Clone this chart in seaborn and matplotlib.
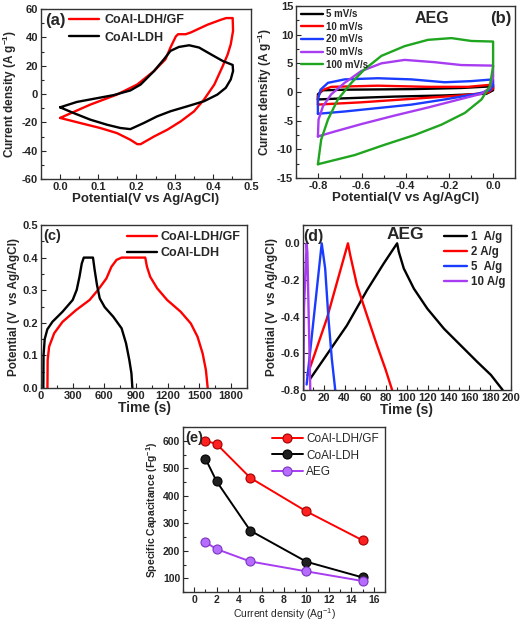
import matplotlib
matplotlib.use("Agg")
import matplotlib.pyplot as plt
import seaborn as sns
from matplotlib.ticker import MultipleLocator

# ---- (a) CV curves, CoAl-LDH/GF vs CoAl-LDH ----
cv_gf_v = [0.0, 0.079, 0.149, 0.202, 0.246, 0.276, 0.289, 0.303, 0.309, 0.329, 0.342, 0.386, 0.421, 0.435,
           0.452, 0.453, 0.447, 0.439, 0.426, 0.404, 0.377, 0.351, 0.316, 0.281, 0.246, 0.211, 0.202, 0.184,
           0.149, 0.105, 0.053, 0.0]
cv_gf_i = [-16.9, -7.5, -0.4, 6.7, 16.2, 24.5, 32.8, 40.6, 42.2, 42.2, 43.4, 48.9, 52.4, 53.6,
           53.6, 44.6, 35.1, 28.0, 19.7, 6.7, -3.9, -12.2, -19.3, -25.2, -30.0, -35.4, -35.4, -32.3,
           -27.6, -24.0, -20.5, -16.9]
cv_ldh_v = [0.0, 0.044, 0.088, 0.140, 0.184, 0.211, 0.246, 0.272, 0.289, 0.311, 0.338, 0.364, 0.395, 0.426,
            0.452, 0.453, 0.447, 0.434, 0.412, 0.377, 0.333, 0.289, 0.254, 0.219, 0.184, 0.158, 0.123,
            0.079, 0.035, 0.0]
cv_ldh_i = [-9.4, -5.6, -3.4, -0.8, 2.5, 6.7, 16.2, 24.5, 30.4, 33.2, 34.4, 32.8, 28.0, 23.3,
            20.5, 16.2, 10.3, 4.4, -0.4, -5.1, -8.7, -12.2, -15.8, -20.5, -24.8, -24.0, -21.7,
            -18.1, -13.4, -9.4]

# ---- (b) CV of AEG at several scan rates ----
aeg5_v = [-0.8, -0.8, -0.777, -0.678, -0.373, -0.145, 0.0, 0.0, -0.03, -0.221, -0.449, -0.678, -0.8]
aeg5_i = [-1.3, -0.4, 0.3, 0.4, 0.5, 0.7, 1.0, 0.3, -0.3, -0.6, -0.8, -1.1, -1.3]
aeg10_v = [-0.8, -0.8, -0.782, -0.739, -0.526, -0.297, -0.114, 0.0, 0.0, -0.023, -0.145, -0.297, -0.449,
           -0.602, -0.754, -0.8]
aeg10_i = [-2.2, -0.8, 0.3, 0.9, 1.1, 0.9, 0.9, 1.3, 0.6, -0.1, -0.6, -1.0, -1.4, -1.8, -2.1, -2.2]
aeg20_v = [-0.8, -0.8, -0.788, -0.754, -0.678, -0.526, -0.373, -0.221, -0.099, 0.0, 0.0, -0.015, -0.069,
           -0.221, -0.373, -0.526, -0.678, -0.8]
aeg20_i = [-3.8, -1.3, 0.4, 1.6, 2.2, 2.4, 2.2, 1.7, 1.9, 2.2, 1.1, 0.3, -0.3, -1.3, -2.2, -2.8, -3.4, -3.8]
aeg50_v = [-0.8, -0.797, -0.777, -0.739, -0.678, -0.602, -0.510, -0.404, -0.267, -0.145, 0.0, 0.0, -0.015,
           -0.053, -0.175, -0.297, -0.449, -0.602, -0.724, -0.8]
aeg50_i = [-7.75, -4.8, -2.5, -0.4, 1.6, 3.65, 5.0, 5.6, 5.2, 4.7, 4.6, 2.5, 0.7, -0.3, -1.5, -2.7, -4.1,
           -5.6, -6.9, -7.75]
aeg100_v = [-0.8, -0.785, -0.754, -0.709, -0.647, -0.587, -0.510, -0.404, -0.297, -0.190, -0.099, 0.0, 0.0,
            -0.015, -0.053, -0.129, -0.236, -0.358, -0.495, -0.632, -0.8]
aeg100_i = [-12.6, -8.3, -4.8, -1.3, 1.6, 3.95, 6.3, 8.0, 9.1, 9.4, 8.9, 8.8, 4.5, 1.0, -1.3, -3.65, -5.7,
            -7.5, -9.2, -11.0, -12.6]

# ---- (c) charge/discharge, CoAl-LDH/GF vs CoAl-LDH ----
gcd_gf_t = [61, 63, 77, 125, 204, 332, 460, 540, 619, 667, 715, 763, 987, 1003, 1034, 1099, 1194, 1322,
            1418, 1482, 1530, 1561, 1578]
gcd_gf_v = [0.0, 0.086, 0.127, 0.168, 0.203, 0.239, 0.270, 0.301, 0.336, 0.372, 0.393, 0.40, 0.40, 0.372,
            0.341, 0.306, 0.270, 0.234, 0.198, 0.157, 0.106, 0.055, 0.0]
gcd_ldh_t = [22, 24, 35, 60, 108, 204, 300, 338, 364, 386, 405, 492, 508, 530, 556, 603, 683, 763, 805,
             836, 856, 865]
gcd_ldh_v = [0.0, 0.10, 0.15, 0.18, 0.203, 0.234, 0.270, 0.301, 0.341, 0.382, 0.40, 0.40, 0.362, 0.316,
             0.275, 0.248, 0.219, 0.183, 0.137, 0.086, 0.045, 0.0]

# ---- (d) charge/discharge of AEG ----
aeg_1_t = [6.8, 42.2, 61.5, 77.6, 90.5, 92.1, 96.9, 106.6, 119.5, 135.6, 151.7, 167.8, 180.7, 192]
aeg_1_v = [-0.74, -0.448, -0.256, -0.110, 0.0, -0.046, -0.137, -0.247, -0.356, -0.466, -0.557, -0.648,
           -0.718, -0.80]
aeg_2_t = [4.2, 22.9, 43.2, 45.4, 51.9, 61.5, 71.2, 79.2, 85.7]
aeg_2_v = [-0.72, -0.411, 0.0, -0.064, -0.228, -0.393, -0.557, -0.685, -0.80]
aeg_5_t = [3.5, 18, 21.3, 24.5, 27.7, 31]
aeg_5_v = [-0.77, 0.0, -0.137, -0.411, -0.63, -0.80]
aeg_10_t = [0.4, 1.0, 3.5, 4.2, 5.5, 7.0]
aeg_10_v = [-0.80, -0.35, 0.0, -0.05, -0.4, -0.80]

# ---- (e) specific capacitance ----
current_density = [1, 2, 5, 10, 15]
cap_gf = [600, 588, 465, 343, 238]
cap_ldh = [535, 452, 273, 160, 103]
cap_aeg = [231, 206, 161, 125, 90]

RED = "#ff0000"
BLACK = "#000000"
BLUE = "#1a3cff"
PURPLE = "#a83cf0"
GREEN = "#1fa51f"

sns.set_style("ticks")
plt.rcParams["font.family"] = ["Liberation Sans", "DejaVu Sans"]
plt.rcParams["font.weight"] = "bold"
plt.rcParams["axes.labelweight"] = "bold"
plt.rcParams["mathtext.fontset"] = "custom"
plt.rcParams["mathtext.default"] = "regular"
plt.rcParams["axes.unicode_minus"] = False
plt.rcParams["axes.linewidth"] = 1.0
plt.rcParams["axes.edgecolor"] = "#333333"


def style_axes(ax, xmaj, xmin, ymaj, ymin, size=8):
    ax.xaxis.set_major_locator(MultipleLocator(xmaj))
    ax.xaxis.set_minor_locator(MultipleLocator(xmin))
    ax.yaxis.set_major_locator(MultipleLocator(ymaj))
    ax.yaxis.set_minor_locator(MultipleLocator(ymin))
    ax.tick_params(which="both", direction="in", labelsize=size, width=0.8, pad=2)
    ax.tick_params(which="major", length=3.5)
    ax.tick_params(which="minor", length=2)
    for s in ax.spines.values():
        s.set_visible(True)


def curve(ax, x, y, color, label, lw=1.7):
    sns.lineplot(x=x, y=y, sort=False, estimator=None, color=color, lw=lw, label=label, ax=ax)


fig = plt.figure(figsize=(5.21, 6.23), dpi=100)
W, H = 521, 623


def add_axes(l, r, t, b):
    return fig.add_axes([l / W, 1 - b / H, (r - l) / W, (b - t) / H])


# (a)
ax = add_axes(41, 251, 9, 179)
curve(ax, cv_gf_v, cv_gf_i, RED, "CoAl-LDH/GF")
curve(ax, cv_ldh_v, cv_ldh_i, BLACK, "CoAl-LDH")
ax.set_xlim(-0.05, 0.5)
ax.set_ylim(-60, 60)
style_axes(ax, 0.1, 0.05, 20, 10)
ax.set_xlabel("Potential(V vs Ag/AgCl)", fontsize=9.5, labelpad=1)
ax.set_ylabel("Current density (A g$^{-1}$)", fontsize=8.5, labelpad=2)
ax.legend(loc="upper left", bbox_to_anchor=(0.11, 1.0), frameon=False, fontsize=9,
          handlelength=2.4, handletextpad=0.4, labelspacing=0.45, borderaxespad=0)
ax.text(0.02, 0.975, "(a)", transform=ax.transAxes, ha="left", va="top", fontsize=12, weight="bold")

# (b)
ax = add_axes(296, 515, 6, 178)
curve(ax, aeg5_v, aeg5_i, BLACK, "5 mV/s")
curve(ax, aeg10_v, aeg10_i, RED, "10 mV/s")
curve(ax, aeg20_v, aeg20_i, BLUE, "20 mV/s")
curve(ax, aeg50_v, aeg50_i, PURPLE, "50 mV/s")
curve(ax, aeg100_v, aeg100_i, GREEN, "100 mV/s")
ax.set_xlim(-0.9, 0.1)
ax.set_ylim(-15, 15)
style_axes(ax, 0.2, 0.1, 5, 2.5)
ax.set_xlabel("Potential(V vs Ag/AgCl)", fontsize=9.5, labelpad=1)
ax.set_ylabel("Current density (A g$^{-1}$)", fontsize=8.5, labelpad=2)
ax.legend(loc="upper left", bbox_to_anchor=(0.0, 1.01), frameon=False, fontsize=7,
          handlelength=2.3, handletextpad=0.3, labelspacing=0.27, borderaxespad=0.1)
ax.text(0.62, 0.925, "AEG", transform=ax.transAxes, ha="center", va="center", fontsize=11.5, weight="bold")
ax.text(0.985, 0.925, "(b)", transform=ax.transAxes, ha="right", va="center", fontsize=12, weight="bold")

# (c)
ax = add_axes(41, 247, 225, 388)
curve(ax, gcd_gf_t, gcd_gf_v, RED, "CoAl-LDH/GF")
curve(ax, gcd_ldh_t, gcd_ldh_v, BLACK, "CoAl-LDH")
ax.set_xlim(0, 1950)
ax.set_ylim(0, 0.5)
style_axes(ax, 300, 150, 0.1, 0.05)
ax.set_xlabel("Time (s)", fontsize=10, labelpad=0)
ax.set_ylabel("Potential (V  vs Ag/AgCl)", fontsize=8.5, labelpad=2)
ax.legend(loc="upper right", bbox_to_anchor=(1.0, 1.0), frameon=False, fontsize=9,
          handlelength=2.4, handletextpad=0.3, labelspacing=0.32, borderaxespad=0.1)
ax.text(0.01, 0.975, "(c)", transform=ax.transAxes, ha="left", va="top", fontsize=10.5, weight="bold")

# (d)
ax = add_axes(303, 511, 225, 390)
curve(ax, aeg_1_t, aeg_1_v, BLACK, "1  A/g")
curve(ax, aeg_2_t, aeg_2_v, RED, "2 A/g")
curve(ax, aeg_5_t, aeg_5_v, BLUE, "5  A/g")
curve(ax, aeg_10_t, aeg_10_v, PURPLE, "10 A/g")
ax.set_xlim(0, 200)
ax.set_ylim(-0.8, 0.1)
style_axes(ax, 20, 10, 0.2, 0.1)
ax.set_xlabel("Time (s)", fontsize=10, labelpad=0)
ax.set_ylabel("Potential (V  vs Ag/AgCl)", fontsize=8.5, labelpad=2)
ax.legend(loc="upper right", bbox_to_anchor=(1.0, 1.0), frameon=False, fontsize=8.3,
          handlelength=2.0, handletextpad=0.3, labelspacing=0.28, borderaxespad=0.1)
ax.text(0.0, 0.975, "(d)", transform=ax.transAxes, ha="left", va="top", fontsize=11.5, weight="bold")
ax.text(0.49, 0.94, "AEG", transform=ax.transAxes, ha="center", va="center", fontsize=12.5, weight="bold")

# (e)
ax = add_axes(183, 385, 427, 592)
for vals, line_col, face, edge, lab in [(cap_gf, RED, "#ff2020", "#a00000", "CoAl-LDH/GF"),
                                        (cap_ldh, BLACK, "#202020", "#000000", "CoAl-LDH"),
                                        (cap_aeg, PURPLE, "#b56cff", "#7a35c0", "AEG")]:
    sns.lineplot(x=current_density, y=vals, color=line_col, lw=1.4,
                 marker="o", markersize=6.5, markerfacecolor=face, markeredgecolor=edge,
                 markeredgewidth=0.8, label=lab, ax=ax)
ax.set_xlim(-1, 17)
ax.set_ylim(50, 650)
style_axes(ax, 2, 1, 100, 50, size=7.5)
ax.set_xlabel("Current density (Ag$^{-1}$)", fontsize=7.5, fontweight="normal", labelpad=1)
ax.set_ylabel("Specific Capacitance (Fg$^{-1}$)", fontsize=7.5, labelpad=2)
ax.legend(loc="upper right", bbox_to_anchor=(1.0, 1.0), frameon=False,
          handlelength=2.6, handletextpad=0.3, labelspacing=0.4, borderaxespad=0.1,
          prop={"weight": "normal", "size": 8.5})
ax.text(0.01, 0.975, "(e)", transform=ax.transAxes, ha="left", va="top", fontsize=10.5, weight="bold")

fig.savefig("out.png", dpi=100)
